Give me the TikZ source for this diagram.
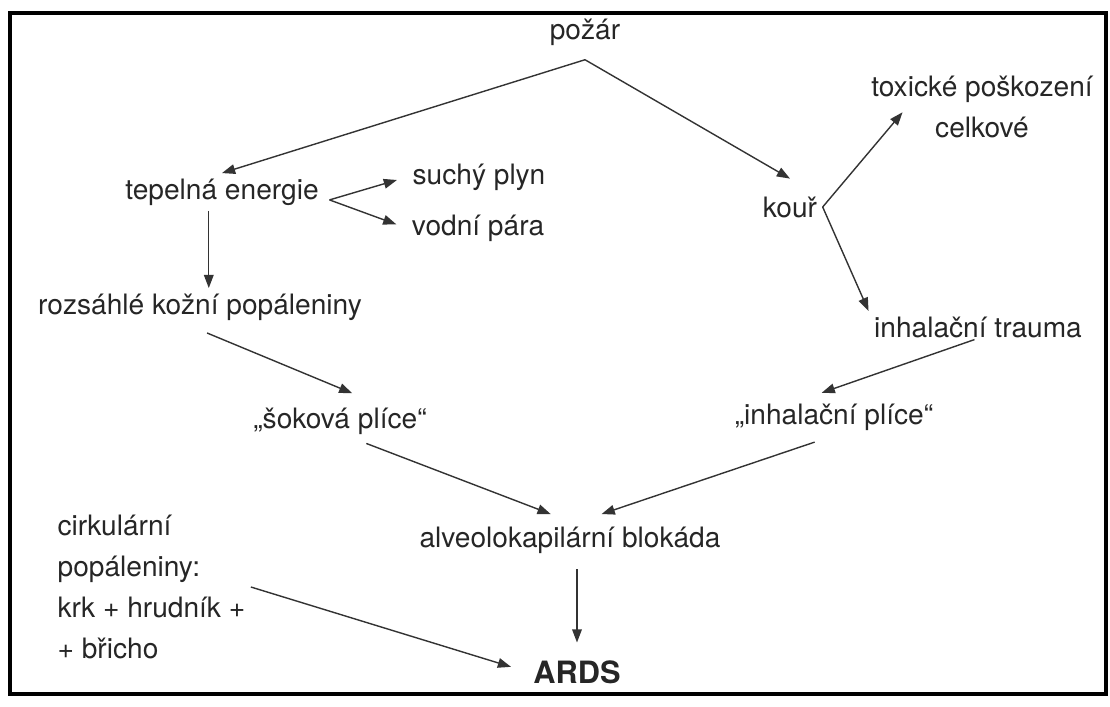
\documentclass[tikz,border=0pt]{standalone}
\usepackage{fontspec}
\setmainfont{TeX Gyre Heros}
\usetikzlibrary{arrows.meta, positioning, calc}
\definecolor{ink}{HTML}{262626}
\definecolor{wire}{HTML}{333333}
\tikzset{
  lbl/.style={text=ink, inner sep=3pt, font=\fontsize{16}{23.5}\selectfont},
  lblbig/.style={lbl, font=\fontsize{17.5}{20}\selectfont\bfseries},
  arr/.style={-{Triangle[length=7.5pt,width=5.5pt]}, line width=0.8pt, draw=wire},
  forkarr/.style={arr, shorten >=6pt}
}
\begin{document}
\begin{tikzpicture}[x=0.02cm, y=-0.02cm]
  \useasboundingbox (0,0) rectangle (1110,707);
  \draw[line width=2.3pt, black] (10,13) rectangle (1106,694);

  \node[lbl] (pozar) at (585,32) {požár};
  \node[lbl] (tepel) at (222,192) {tepelná energie};
  \node[lbl] (suchy) at (479,177) {suchý plyn};
  \node[lbl] (vodni) at (478,228) {vodní pára};
  \node[lbl] (kour) at (790,207) {kouř};
  \node[lbl,align=center] (toxic) at (982,107) {toxické poškození\\celkové};
  \node[lbl] (rozs) at (200,307) {rozsáhlé kožní popáleniny};
  \node[lbl] (inhtr) at (978,327) {inhalační trauma};
  \node[lbl] (sokova) at (340,421) {„šoková plíce“};
  \node[lbl] (inhpl) at (834,417) {„inhalační plíce“};
  \node[lbl] (alveo) at (570,540) {alveolokapilární blokáda};
  \node[lbl,align=left,anchor=west] (cirk) at (52,587) {cirkulární\\popáleniny:\\krk + hrudník +\\+ břicho};
  \node[lblbig] (ards) at (577,672) {ARDS};

  \coordinate (apex) at ([yshift=-5pt]pozar.south);
  \coordinate (tfork) at ([xshift=3pt,yshift=-4.5pt]tepel.east);

  \draw[arr] (apex) -- (tepel.north);
  \draw[arr] (apex) -- ([yshift=7pt]kour.north);
  \draw[forkarr] (tfork) -- (suchy.west);
  \draw[forkarr] (tfork) -- (vodni.west);
  \draw[arr] ([xshift=5pt]rozs.north |- tepel.south) -- ([xshift=5pt]rozs.north);
  \draw[arr] (kour.east) -- ([xshift=21pt,yshift=-3pt]toxic.west);
  \draw[arr] (kour.east) -- (inhtr.north west);
  \draw[arr] ([xshift=4pt,yshift=-4pt]rozs.south) -- ([xshift=7pt,yshift=5pt]sokova.north);
  \draw[arr] ([xshift=-2pt,yshift=2pt]inhtr.south) -- ([xshift=-7pt,yshift=3pt]inhpl.north);
  \draw[arr] ([xshift=15pt,yshift=-2pt]sokova.south) -- ([xshift=-11pt,yshift=4pt]alveo.north);
  \draw[arr] ([xshift=-11pt,yshift=-3.5pt]inhpl.south) -- ([xshift=18pt,yshift=4pt]alveo.north);
  \draw[arr, shorten <=6pt] (ards.north |- alveo.south) -- ([yshift=7pt]ards.north);
  \draw[arr, shorten >=10pt] (cirk.east) -- (ards.west);
\end{tikzpicture}
\end{document}
